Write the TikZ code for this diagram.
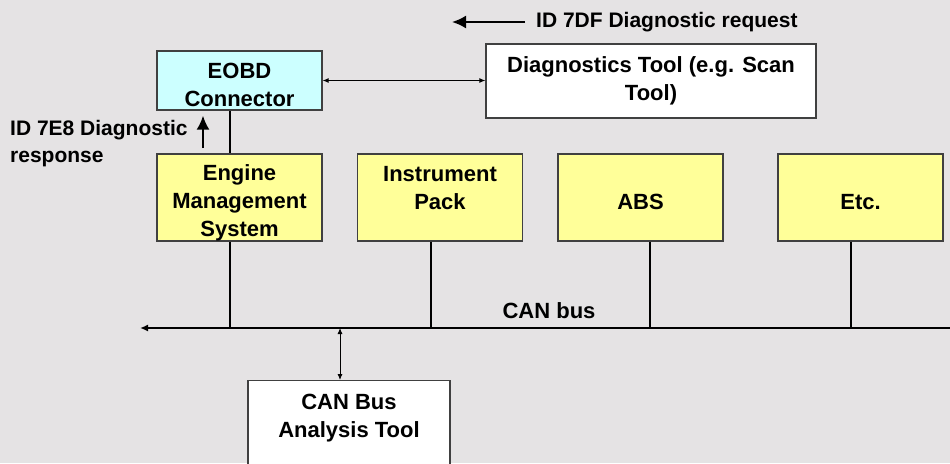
\documentclass[tikz,border=0pt]{standalone}
\usepackage{fontspec}
\setmainfont{Liberation Sans}
\usepackage{tikz}
\usetikzlibrary{arrows.meta}

\definecolor{bggray}{RGB}{229,227,228}
\definecolor{ecuyellow}{RGB}{255,255,153}
\definecolor{obdcyan}{RGB}{204,255,255}
\definecolor{boxline}{RGB}{64,64,64}

\begin{document}
\begin{tikzpicture}[
			x=1pt, y=-1pt,
			box/.style = {draw=boxline, line width=1.3pt, align=center, inner sep=0pt,
				font=\bfseries\fontsize{22}{28}\selectfont},
			ecu/.style = {box, fill=ecuyellow, minimum width=165pt, text height=55pt, text depth=32pt},
			tool/.style = {box, fill=white},
			note/.style = {font=\bfseries\fontsize{21}{27}\selectfont, inner sep=0pt},
			wire/.style = {draw, line width=1.6pt},
			bigarrow/.style = {draw, line width=2pt, -{Latex[length=14pt, width=13pt]}},
			link/.style = {draw, line width=0.9pt, {Latex[length=6pt, width=5pt]}-{Latex[length=6pt, width=5pt]}}
			]
			
			% Background and frame
			\useasboundingbox[fill=bggray] (0,0) rectangle (950,463);
			\clip (0,0) rectangle (950,463);
			
			% Connector and scan tool (top row)
			\node[tool, fill=obdcyan, minimum width=165pt, text height=55.5pt, text depth=3.5pt] (eobd) at (239.5,80.5) {EOBD\\Connector};
			\node[tool, minimum width=330pt, minimum height=74pt] (scantool) at (651,81) {Diagnostics Tool (e.g. Scan\\Tool)};
			
			% Control units on the bus
			\node[ecu, text height=82.5pt, text depth=4.5pt] (ems) at (239.5,197.5) {Engine\\Management\\System};
			\node[ecu] (instr) at (440,197.5) {Instrument\\Pack};
			\node[ecu] (abs) at (640.5,197.5) {ABS};
			\node[ecu] (etc) at (860.5,197.5) {Etc.};
			
			% Analysis tool, cut off by the lower edge
			\node[tool, anchor=north, minimum width=202pt, text height=56.5pt, text depth=80pt] (analyser) at (349,380) {CAN Bus\\Analysis Tool};
			
			% CAN bus line
			\coordinate (busR) at (950,328);
			\coordinate (busL) at (140,328);
			\draw[line width=2.4pt, -{Latex[length=8pt, width=7pt]}] (busR) -- (busL);
			\node[note, font=\bfseries\fontsize{22}{27}\selectfont] (buslabel) at (549,311) {CAN bus};
			
			% Drops from the units to the bus
			\draw[wire] ([xshift=-9.5pt]eobd.south) -- ([xshift=-9.5pt]ems.north);
			\draw[wire] ([xshift=-9.5pt]ems.south) -- ([xshift=-9.5pt]ems.south |- busR);
			\draw[wire] ([xshift=-9pt]instr.south) -- ([xshift=-9pt]instr.south |- busR);
			\draw[wire] ([xshift=9.5pt]abs.south) -- ([xshift=9.5pt]abs.south |- busR);
			\draw[wire] ([xshift=-9.5pt]etc.south) -- ([xshift=-9.5pt]etc.south |- busR);
			
			% Two-way links
			\draw[link] (eobd.east) -- (scantool.west |- eobd.east);
			\draw[link] ([xshift=-9pt]analyser.north |- busR) -- ([xshift=-9pt]analyser.north);
			
			% Request and response messages
			\coordinate (req) at (525,22);
			\draw[bigarrow] (req) -- ++(-73,0);
			\node[note, anchor=west] (reqlabel) at (536,22) {ID 7DF Diagnostic request};
			
			\coordinate (resp) at (203,148);
			\draw[bigarrow, shorten >=5pt] (resp) -- (resp |- eobd.south);
			\node[note, anchor=west, align=left] (resplabel) at (10,144) {ID 7E8 Diagnostic\\response};
			
		\end{tikzpicture}
\end{document}
